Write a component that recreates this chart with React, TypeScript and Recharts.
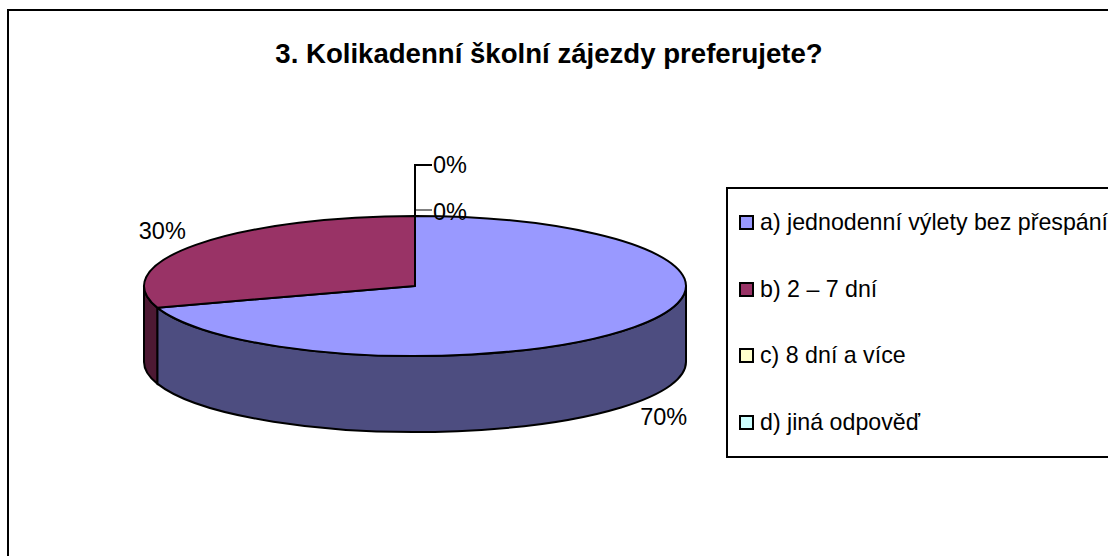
import React from 'react';
import { PieChart, Pie, Cell, Legend } from 'recharts';

const categories = ['a) jednodenní výlety bez přespání', 'b) 2 – 7 dní', 'c) 8 dní a více', 'd) jiná odpověď'];
const values = [70, 30, 0, 0];
const topColors = ['#9999FF', '#993366', '#FFFFCC', '#CCFFFF'];
const wallColors = ['#4D4D80', '#4D1933', '#808066', '#668080'];
const chartTitle = '3. Kolikadenní školní zájezdy preferujete?';

const data = categories.map((name, i) => ({ name, value: values[i] }));

const FONT = '"Liberation Sans", Arial, sans-serif';
const FLATTEN = 70 / 271;
const DEPTH = 76;

const rad = (deg: number) => (deg * Math.PI) / 180;

// Recharts only knows round pies, so the sector is squashed and given a wall here.
const Sector3D = (props: any) => {
  const { cx, cy, outerRadius, startAngle, endAngle, index } = props;
  if (Math.abs(startAngle - endAngle) < 0.01) return <g />;
  const rx = outerRadius;
  const ry = outerRadius * FLATTEN;
  const px = (a: number) => cx + rx * Math.cos(rad(a));
  const py = (a: number) => cy - ry * Math.sin(rad(a));
  const large = Math.abs(startAngle - endAngle) > 180 ? 1 : 0;
  const top = `M${cx},${cy} L${px(startAngle)},${py(startAngle)} A${rx},${ry} 0 ${large} 1 ${px(endAngle)},${py(endAngle)} Z`;

  // only the front half of the rim (0 to -180 degrees) shows a wall
  const s = Math.min(startAngle, 0);
  const e = Math.max(endAngle, -180);
  const wall =
    s > e
      ? `M${px(s)},${py(s)} A${rx},${ry} 0 0 1 ${px(e)},${py(e)} L${px(e)},${py(e) + DEPTH} A${rx},${ry} 0 0 0 ${px(s)},${py(s) + DEPTH} Z`
      : null;

  return (
    <g>
      {wall && <path d={wall} fill={wallColors[index]} stroke="#000" strokeWidth={2} />}
      <path d={top} fill={topColors[index]} stroke="#000" strokeWidth={2} strokeLinejoin="round" />
    </g>
  );
};

// dx/dy place the text, lineY the leader of the two empty slices
const labelOffsets = [
  { dx: 6, dy: 13, lineY: 0 },
  { dx: -57, dy: -14, lineY: 0 },
  { dx: 18, dy: -51, lineY: -51 },
  { dx: 18, dy: -4, lineY: -6 },
];

const renderLabel = (props: any) => {
  const { cx, cy, midAngle, outerRadius, percent, index } = props;
  const ax = cx + outerRadius * Math.cos(rad(midAngle));
  const ay = cy - outerRadius * FLATTEN * Math.sin(rad(midAngle));
  const baseY = index === 0 ? ay + DEPTH : ay;
  const off = labelOffsets[index];
  const x = ax + off.dx;
  const y = baseY + off.dy;
  const lineY = ay + off.lineY;
  return (
    <g key={index}>
      {index === 2 && <polyline points={`${ax},${ay} ${ax},${lineY} ${x - 1},${lineY}`} fill="none" stroke="#000" strokeWidth={2} />}
      {index === 3 && <line x1={ax} y1={lineY} x2={x - 1} y2={lineY} stroke="#000" strokeWidth={1} />}
      <text x={x} y={y} dy="0.36em" fontFamily={FONT} fontSize={23.5} fill="#000" textAnchor="start">
        {`${Math.round(percent * 100)}%`}
      </text>
    </g>
  );
};

const renderLegend = (props: any) => (
  <div
    style={{
      boxSizing: 'border-box',
      height: 271,
      width: 420,
      border: '2px solid #000',
      background: '#fff',
      display: 'flex',
      flexDirection: 'column',
      justifyContent: 'space-around',
      paddingLeft: 11,
      fontFamily: FONT,
      fontSize: 23.2,
      color: '#000',
      whiteSpace: 'nowrap',
    }}
  >
    {props.payload.map((entry: any, i: number) => (
      <div key={i} style={{ display: 'flex', alignItems: 'center' }}>
        <span
          style={{
            boxSizing: 'border-box',
            width: 15,
            height: 15,
            marginRight: 6,
            border: '2px solid #000',
            background: topColors[i],
          }}
        />
        {entry.value}
      </div>
    ))}
  </div>
);

export default function App() {
  return (
    <div style={{ position: 'absolute', left: 0, top: 0, width: 1108, height: 556, overflow: 'hidden', background: '#fff' }}>
      <PieChart width={1108} height={556} margin={{ top: 0, right: 0, bottom: 0, left: 0 }}>
        <rect x={8} y={10} width={1300} height={800} fill="#fff" stroke="#000" strokeWidth={2} />
        <text x={549} y={53} dy="0.36em" textAnchor="middle" fontFamily={FONT} fontSize={27.6} fontWeight="bold" fill="#000">
          {chartTitle}
        </text>
        <Pie
          data={data}
          dataKey="value"
          nameKey="name"
          cx={415}
          cy={286}
          outerRadius={271}
          startAngle={90}
          endAngle={-270}
          stroke="none"
          shape={Sector3D}
          label={renderLabel}
          labelLine={false}
          isAnimationActive={false}
        >
          {data.map((_, i) => (
            <Cell key={i} fill={topColors[i]} />
          ))}
        </Pie>
        <Legend
          content={renderLegend}
          layout="vertical"
          wrapperStyle={{ position: 'absolute', left: 726, top: 187, width: 420, bottom: 'auto', right: 'auto' }}
        />
      </PieChart>
    </div>
  );
}
